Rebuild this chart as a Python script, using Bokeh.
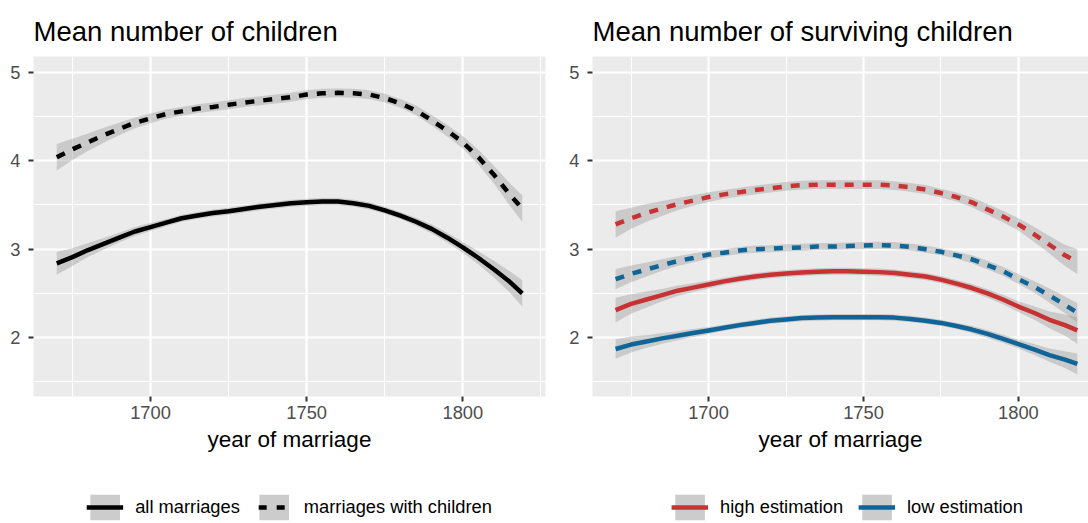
from bokeh.plotting import figure
from bokeh.models import FixedTicker, Legend, LegendItem
from bokeh.layouts import column, row
from bokeh.embed import file_html
from bokeh.resources import INLINE

# ---------------- data ----------------
years = [1670, 1675, 1680, 1685, 1690, 1695, 1700, 1705, 1710, 1715, 1720, 1725, 1730, 1735, 1740,
         1745, 1750, 1755, 1760, 1765, 1770, 1775, 1780, 1785, 1790, 1795, 1800, 1805, 1810, 1815, 1819]

# left panel: mean number of children
all_marriages = [2.84, 2.91, 2.99, 3.06, 3.13, 3.20, 3.25, 3.30, 3.35, 3.38, 3.41, 3.43, 3.455, 3.48, 3.50,
                 3.52, 3.53, 3.54, 3.54, 3.52, 3.49, 3.44, 3.38, 3.31, 3.23, 3.13, 3.02, 2.90, 2.77, 2.63, 2.50]
all_marriages_se = [0.13, 0.10, 0.08, 0.065, 0.055, 0.05, 0.045, 0.04, 0.04, 0.04, 0.04, 0.04, 0.04, 0.04, 0.04,
                    0.04, 0.04, 0.04, 0.04, 0.04, 0.04, 0.04, 0.04, 0.045, 0.05, 0.055, 0.06, 0.075, 0.095, 0.12, 0.15]
with_children = [4.04, 4.13, 4.21, 4.29, 4.36, 4.43, 4.48, 4.53, 4.56, 4.59, 4.61, 4.635, 4.66, 4.68, 4.70,
                 4.72, 4.75, 4.765, 4.77, 4.765, 4.75, 4.71, 4.65, 4.57, 4.46, 4.34, 4.21, 4.04, 3.84, 3.62, 3.46]
with_children_se = [0.15, 0.12, 0.10, 0.085, 0.07, 0.06, 0.055, 0.05, 0.05, 0.05, 0.05, 0.05, 0.05, 0.05, 0.05,
                    0.05, 0.05, 0.05, 0.05, 0.05, 0.05, 0.05, 0.05, 0.055, 0.06, 0.065, 0.07, 0.085, 0.10, 0.125, 0.15]

# right panel: mean number of surviving children
high_children = [3.28, 3.35, 3.41, 3.46, 3.51, 3.55, 3.59, 3.62, 3.645, 3.67, 3.69, 3.71, 3.725, 3.73, 3.73,
                 3.73, 3.73, 3.73, 3.72, 3.70, 3.675, 3.635, 3.59, 3.53, 3.45, 3.37, 3.28, 3.17, 3.05, 2.93, 2.86]
high_children_se = [0.15, 0.12, 0.10, 0.085, 0.07, 0.06, 0.055, 0.05, 0.05, 0.05, 0.05, 0.05, 0.05, 0.05, 0.05,
                    0.05, 0.05, 0.05, 0.05, 0.05, 0.05, 0.05, 0.05, 0.055, 0.06, 0.065, 0.07, 0.085, 0.10, 0.12, 0.14]
low_children = [2.66, 2.72, 2.77, 2.82, 2.865, 2.90, 2.94, 2.96, 2.985, 3.00, 3.005, 3.015, 3.02, 3.03, 3.03,
                3.035, 3.04, 3.045, 3.04, 3.025, 3.00, 2.97, 2.93, 2.885, 2.82, 2.75, 2.66, 2.575, 2.475, 2.37, 2.28]
low_children_se = [0.115, 0.095, 0.08, 0.065, 0.055, 0.05, 0.045, 0.04, 0.04, 0.04, 0.04, 0.04, 0.04, 0.04, 0.04,
                   0.04, 0.04, 0.04, 0.04, 0.04, 0.04, 0.04, 0.04, 0.045, 0.05, 0.05, 0.055, 0.065, 0.08, 0.095, 0.11]
high_all = [2.31, 2.38, 2.43, 2.48, 2.53, 2.565, 2.60, 2.635, 2.665, 2.69, 2.71, 2.725, 2.735, 2.745, 2.75,
            2.75, 2.745, 2.74, 2.73, 2.71, 2.69, 2.655, 2.61, 2.56, 2.50, 2.43, 2.35, 2.28, 2.20, 2.14, 2.08]
high_all_se = [0.14, 0.11, 0.09, 0.07, 0.06, 0.05, 0.045, 0.04, 0.04, 0.04, 0.04, 0.04, 0.04, 0.04, 0.04,
               0.04, 0.04, 0.04, 0.04, 0.04, 0.04, 0.04, 0.04, 0.045, 0.05, 0.055, 0.06, 0.075, 0.095, 0.12, 0.15]
low_all = [1.87, 1.92, 1.955, 1.99, 2.02, 2.05, 2.08, 2.11, 2.14, 2.165, 2.19, 2.205, 2.22, 2.225, 2.23,
           2.23, 2.23, 2.23, 2.225, 2.21, 2.19, 2.165, 2.13, 2.09, 2.04, 1.985, 1.925, 1.865, 1.80, 1.75, 1.70]
low_all_se = [0.11, 0.09, 0.07, 0.06, 0.05, 0.045, 0.04, 0.035, 0.035, 0.035, 0.035, 0.035, 0.035, 0.035, 0.035,
              0.035, 0.035, 0.035, 0.035, 0.035, 0.035, 0.035, 0.035, 0.04, 0.045, 0.045, 0.05, 0.06, 0.075, 0.095, 0.12]

x_ticks = [1700, 1750, 1800]
x_minor = [1675, 1725, 1775, 1825]
y_ticks = [2, 3, 4, 5]
y_minor = [1.5, 2.5, 3.5, 4.5]

titles = ["Mean number of children", "Mean number of surviving children"]
x_label = "year of marriage"
legend_left = ["all marriages", "marriages with children"]
legend_right = ["high estimation", "low estimation"]

# ---------------- style ----------------
FONT = "Liberation Sans"
PANEL = "#EBEBEB"
RED = "#C93232"
BLUE = "#0F6597"
RIBBON = "#999999"
KEY = "#CCCCCC"
LW = 4.5
DASH = "9 9"
X_START = 1662.55
PX_PER_YEAR = 512 / (1826.45 - 1662.55)
MAIN_H = 478


def band(m, s, sign):
    return [a + sign * b for a, b in zip(m, s)]


def make_panel(title, width, bl, br, frame_w):
    x_end = X_START + frame_w / PX_PER_YEAR
    p = figure(width=width, height=MAIN_H, x_range=(X_START, x_end), y_range=(1.332, 5.181),
               output_backend="svg", toolbar_location=None, title=title,
               min_border_left=bl, min_border_right=br, min_border_top=56, min_border_bottom=82)
    p.title.text_font = FONT
    p.title.text_font_size = "27.5px"
    p.title.text_font_style = "normal"
    p.title.text_color = "black"
    p.title.align = "left"
    p.title.standoff = 20
    p.background_fill_color = PANEL
    p.border_fill_color = "white"
    p.outline_line_color = None

    xt = FixedTicker(ticks=x_ticks, minor_ticks=x_minor)
    yt = FixedTicker(ticks=y_ticks, minor_ticks=y_minor)
    p.xaxis.ticker = xt
    p.yaxis.ticker = yt
    p.xgrid.ticker = xt
    p.ygrid.ticker = yt
    for g in (p.xgrid, p.ygrid):
        g.grid_line_color = "white"
        g.grid_line_width = 2.2
        g.minor_grid_line_color = "white"
        g.minor_grid_line_width = 1.1
    for ax in (p.xaxis, p.yaxis):
        ax.axis_line_color = None
        ax.major_tick_line_color = "#333333"
        ax.major_tick_line_width = 2
        ax.major_tick_out = 5
        ax.major_tick_in = 0
        ax.minor_tick_line_color = None
        ax.major_label_text_font = FONT
        ax.major_label_text_font_size = "18.3px"
        ax.major_label_text_color = "#4D4D4D"
    p.yaxis.major_label_standoff = 8
    p.xaxis.major_label_standoff = 4
    p.xaxis.axis_label = x_label
    p.xaxis.axis_label_text_font = FONT
    p.xaxis.axis_label_text_font_size = "22.5px"
    p.xaxis.axis_label_text_font_style = "normal"
    p.xaxis.axis_label_text_color = "black"
    p.xaxis.axis_label_standoff = 5
    return p


def add_series(p, m, s, color, dash):
    p.varea(x=years, y1=band(m, s, -1), y2=band(m, s, 1), fill_color=RIBBON, fill_alpha=0.4)
    p.line(x=years, y=m, line_color=color, line_width=LW, line_dash=dash, line_join="round")


p1 = make_panel(titles[0], 566, 33, 21, 512)
add_series(p1, all_marriages, all_marriages_se, "black", "solid")
add_series(p1, with_children, with_children_se, "black", DASH)

p2 = make_panel(titles[1], 522, 22, 0, 500)
add_series(p2, high_children, high_children_se, RED, DASH)
add_series(p2, low_children, low_children_se, BLUE, DASH)
add_series(p2, high_all, high_all_se, RED, "solid")
add_series(p2, low_all, low_all_se, BLUE, "solid")


def make_legend_fig(width, bl, br, labels, colors, dashes):
    f = figure(width=width, height=45, x_axis_type=None, y_axis_type=None,
               x_range=(0, 1), y_range=(0, 1),
               output_backend="svg", toolbar_location=None,
               min_border_left=bl, min_border_right=br, min_border_top=0, min_border_bottom=0)
    f.outline_line_color = None
    f.background_fill_color = "white"
    f.border_fill_color = "white"
    items = []
    for lab, c, d in zip(labels, colors, dashes):
        # legend-only renderers, their data lie outside the visible range
        a = f.varea(x=[5, 6], y1=[5, 5], y2=[6, 6], fill_color=KEY, fill_alpha=1.0)
        l = f.line(x=[5, 6], y=[5, 6], line_color=c, line_width=LW, line_dash=d, line_dash_offset=15)
        items.append(LegendItem(label=lab, renderers=[a, l]))
    lg = Legend(items=items, orientation="horizontal", location="bottom_center",
                glyph_width=37, glyph_height=32, label_standoff=12, spacing=15,
                padding=0, margin=0, border_line_color=None, background_fill_alpha=0,
                label_text_font=FONT, label_text_font_size="18.3px", label_text_color="black")
    f.add_layout(lg, "center")
    return f


lf1 = make_legend_fig(566, 33, 21, legend_left, ["black", "black"], ["solid", "8 10"])
lf2 = make_legend_fig(522, 40, 0, legend_right, [RED, BLUE], ["solid", "solid"])

layout = column(row(p1, p2), row(lf1, lf2))
open("out.html", "w").write(file_html(layout, INLINE))
